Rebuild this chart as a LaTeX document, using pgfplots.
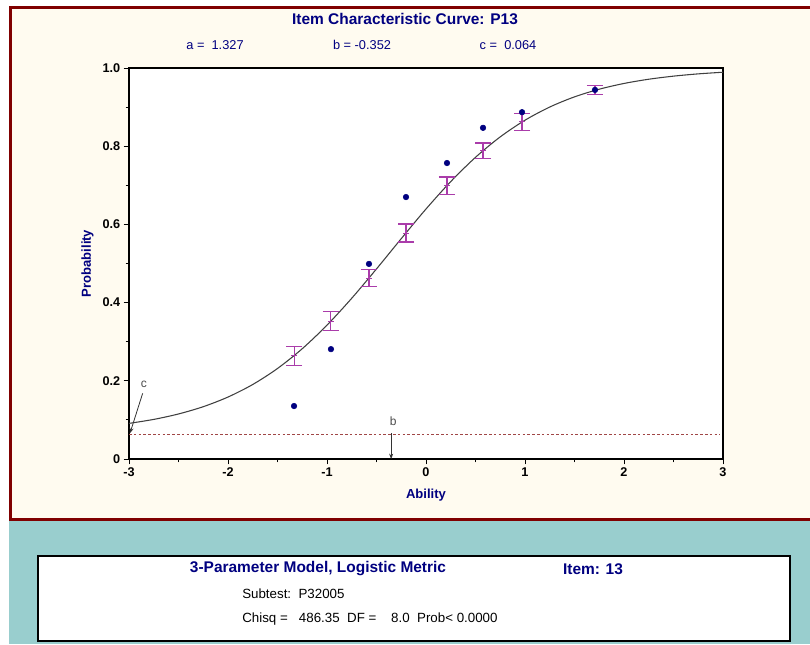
\documentclass[border=0pt]{standalone}
\usepackage{fontspec}
\setmainfont{Liberation Sans}
\usepackage{pgfplots}
\pgfplotsset{compat=1.18}
\usetikzlibrary{arrows.meta}
\definecolor{navy}{RGB}{0,0,128}
\definecolor{maroonc}{RGB}{128,0,0}
\definecolor{cream}{RGB}{255,251,240}
\definecolor{tealc}{RGB}{153,206,206}
\definecolor{errc}{RGB}{170,60,170}
\definecolor{dashc}{RGB}{160,70,70}
\begin{document}
\begin{tikzpicture}
\begin{scope}[x=0.75pt,y=-0.75pt]
\fill[white] (0,0) rectangle (810,644);
\fill[tealc] (9,519) rectangle (810,644);
\fill[cream] (10.5,7.5) rectangle (810,519);
\draw[maroonc, line width=2.25pt] (812,7.5) -- (10.5,7.5) -- (10.5,519) -- (812,519);
\filldraw[fill=white, draw=black, line width=2pt] (38,556) rectangle (790,641);
\node[font=\bfseries\fontsize{11.6}{13}\selectfont, text=navy] at (405,19) {Item Characteristic Curve: P13};
\node[font=\fontsize{9.6}{11}\selectfont, text=navy] at (215,45) {a = \ 1.327};
\node[font=\fontsize{9.6}{11}\selectfont, text=navy] at (362,45) {b = -0.352};
\node[font=\fontsize{9.6}{11}\selectfont, text=navy] at (508,45) {c = \ 0.064};
\node[font=\bfseries\fontsize{11.6}{13}\selectfont, text=navy] at (318,569) {3-Parameter Model, Logistic Metric};
\node[font=\bfseries\fontsize{11.6}{13}\selectfont, text=navy] at (593,569) {Item: 13};
\node[font=\fontsize{10}{12}\selectfont, anchor=west, inner sep=0pt] at (242,594) {Subtest:\ \ P32005};
\node[font=\fontsize{10}{12}\selectfont, anchor=west, inner sep=0pt] at (242,619) {Chisq = \ \ 486.35\ \ DF = \ \ \ 8.0\ \ Prob< 0.0000};
\end{scope}
\begin{axis}[
  at={(96.75pt,-344.25pt)}, anchor=south west,
  scale only axis, width=445.5pt, height=293.25pt,
  xmin=-3, xmax=3, ymin=0, ymax=1,
  axis background/.style={fill=white},
  axis line style={black, line width=0.9pt},
  xtick={-3,-2,-1,0,1,2,3},
  xticklabels={-3,-2,-1,0,1,2,3},
  ytick={0,0.2,0.4,0.6,0.8,1.0},
  yticklabels={0,0.2,0.4,0.6,0.8,1.0},
  minor x tick num=1, minor y tick num=1,
  tick align=outside, major tick length=4pt, minor tick length=2.5pt,
  tick style={black, line width=0.7pt},
  xtick pos=bottom, ytick pos=left,
  /pgf/number format/assume math mode=true,
  tick label style={font=\bfseries\fontsize{9.5}{10}\selectfont},
  xticklabel style={yshift=1pt},
  yticklabel style={xshift=1pt},
  xlabel={Ability}, ylabel={Probability},
  label style={font=\bfseries\fontsize{9.8}{11}\selectfont, text=navy},
  xlabel style={yshift=-2.5pt},
  ylabel style={yshift=0pt},
  clip=false,
]
% lower asymptote c
\addplot[dashc, line width=0.7pt, dash pattern=on 2pt off 1.6pt] coordinates {(-3,0.064) (2.97,0.064)};
% ICC
\addplot[black!75, line width=0.8pt, smooth] coordinates {
(-3,0.0911) (-2.75,0.1013) (-2.5,0.1152) (-2.25,0.1338) (-2,0.1585)
(-1.75,0.1906) (-1.5,0.2315) (-1.25,0.2821) (-1,0.3423) (-0.75,0.4112)
(-0.5,0.4862) (-0.25,0.5636) (0,0.6394) (0.25,0.7096) (0.5,0.7716)
(0.75,0.8239) (1,0.8665) (1.25,0.9002) (1.5,0.9262) (1.75,0.9458)
(2,0.9605) (2.25,0.9713) (2.5,0.9792) (2.75,0.9850) (3,0.9892)};
% error bars at model values
\addplot[errc, only marks, mark=-, mark size=2.2pt, mark options={line width=0.7pt},
  error bars/.cd, y dir=both, y explicit,
  error bar style={errc, line width=0.8pt},
  error mark options={errc, line width=0.9pt, mark size=6pt, rotate=90}]
  coordinates {
  (-1.333,0.264) +- (0,0.024)
  (-0.960,0.353) +- (0,0.0235)
  (-0.576,0.463) +- (0,0.022)
  (-0.202,0.578) +- (0,0.023)
  (0.212,0.699) +- (0,0.022)
  (0.576,0.788) +- (0,0.020)
  (0.970,0.862) +- (0,0.0225)
  (1.707,0.943) +- (0,0.0115)};
% observed proportions
\addplot[navy, only marks, mark=*, mark size=2.1pt, mark options={fill=navy, draw=navy}]
  coordinates {(-1.333,0.1355) (-0.960,0.281) (-0.576,0.499) (-0.202,0.670)
  (0.212,0.757) (0.576,0.847) (0.970,0.887) (1.707,0.944)};
% annotations
\draw[black!80, line width=0.6pt, -{Stealth[length=4pt,width=3pt]}] (axis cs:-0.352,0.066) -- (axis cs:-0.352,0);
\node[font=\fontsize{9}{10}\selectfont, text=black!70] at (axis cs:-0.33,0.097) {b};
\draw[black!80, line width=0.6pt, -{Stealth[length=4pt,width=3pt]}] (axis cs:-2.862,0.168) -- (axis cs:-2.99,0.066);
\node[font=\fontsize{9}{10}\selectfont, text=black!70] at (axis cs:-2.85,0.192) {c};
\end{axis}
\pgfresetboundingbox
\path[use as bounding box] (0,0) rectangle (607.5pt,-483pt);
\end{tikzpicture}
\end{document}
